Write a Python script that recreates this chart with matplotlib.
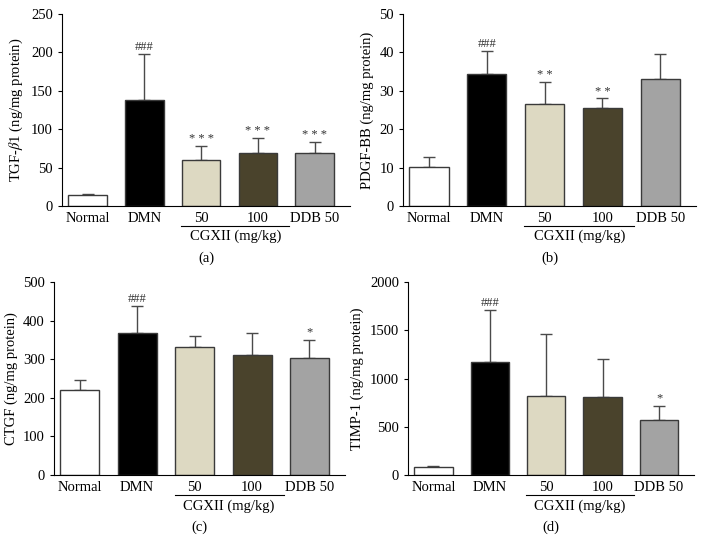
import matplotlib
matplotlib.use('Agg')
import matplotlib.pyplot as plt

plt.rcParams['font.family'] = ['Liberation Serif', 'DejaVu Serif']
plt.rcParams['mathtext.fontset'] = 'stix'

groups = ['Normal', 'DMN', '50', '100', 'DDB 50']
colors = ['#ffffff', '#000000', '#ddd9c2', '#4a432c', '#a3a3a3']

tgf = [14, 138, 60, 69, 69]
tgf_err = [1.5, 60, 18, 19, 14]
tgf_marks = ['', '###', '* * *', '* * *', '* * *']

pdgf = [10.2, 34.3, 26.5, 25.5, 33.0]
pdgf_err = [2.6, 6.0, 5.7, 2.5, 6.5]
pdgf_marks = ['', '###', '* *', '* *', '']

ctgf = [220, 368, 332, 310, 302]
ctgf_err = [25, 69, 29, 58, 49]
ctgf_marks = ['', '###', '', '', '*']

timp = [85, 1175, 815, 805, 570]
timp_err = [10, 535, 645, 400, 150]
timp_marks = ['', '###', '', '', '*']

panels = [
    (tgf, tgf_err, tgf_marks, 'TGF-$\\beta$1 (ng/mg protein)', 250, 50, '(a)', [62, 14, 350, 206]),
    (pdgf, pdgf_err, pdgf_marks, 'PDGF-BB (ng/mg protein)', 50, 10, '(b)', [403, 14, 696, 206]),
    (ctgf, ctgf_err, ctgf_marks, 'CTGF (ng/mg protein)', 500, 100, '(c)', [54, 282, 345, 475]),
    (timp, timp_err, timp_marks, 'TIMP-1 (ng/mg protein)', 2000, 500, '(d)', [408, 282, 694, 475]),
]

W, H = 702, 554
fig = plt.figure(figsize=(7.02, 5.54), dpi=100)

for vals, errs, marks, ylabel, ymax, step, tag, box in panels:
    x0, y0, x1, y1 = box
    ax = fig.add_axes([x0 / W, 1 - y1 / H, (x1 - x0) / W, (y1 - y0) / H])
    xs = list(range(len(groups)))
    ax.bar(xs, vals, width=0.68, color=colors, edgecolor='#3a3a3a', linewidth=1.0, zorder=2)
    ax.errorbar(xs, vals, yerr=[[0] * len(errs), errs], fmt='none', ecolor='#4a4a4a',
                elinewidth=1.0, capsize=4, capthick=1.0, zorder=1)
    for xi, v, e, m in zip(xs, vals, errs, marks):
        if m:
            ax.text(xi, v + e + ymax * 0.005, m, ha='center', va='bottom', fontsize=9, color='#333333')
    ax.set_xlim(-0.45, 4.62)
    ax.set_ylim(0, ymax)
    ax.set_yticks(range(0, ymax + 1, step))
    ax.set_xticks(xs)
    ax.set_xticklabels(groups, fontsize=10.5)
    ax.tick_params(axis='x', length=0, pad=4)
    ax.tick_params(axis='y', direction='out', length=3, labelsize=10.5)
    ax.spines['top'].set_visible(False)
    ax.spines['right'].set_visible(False)
    ax.set_ylabel(ylabel, fontsize=10.5)
    # group line under the CGXII doses
    ax.plot([1.65, 3.55], [-0.105 * ymax, -0.105 * ymax], color='black', lw=0.8, clip_on=False)
    ax.text(2.6, -0.125 * ymax, 'CGXII (mg/kg)', ha='center', va='top', fontsize=10.5)
    ax.text(0.5, -0.235, tag, transform=ax.transAxes, ha='center', va='top', fontsize=10.5)

fig.savefig('out.png', dpi=100)
